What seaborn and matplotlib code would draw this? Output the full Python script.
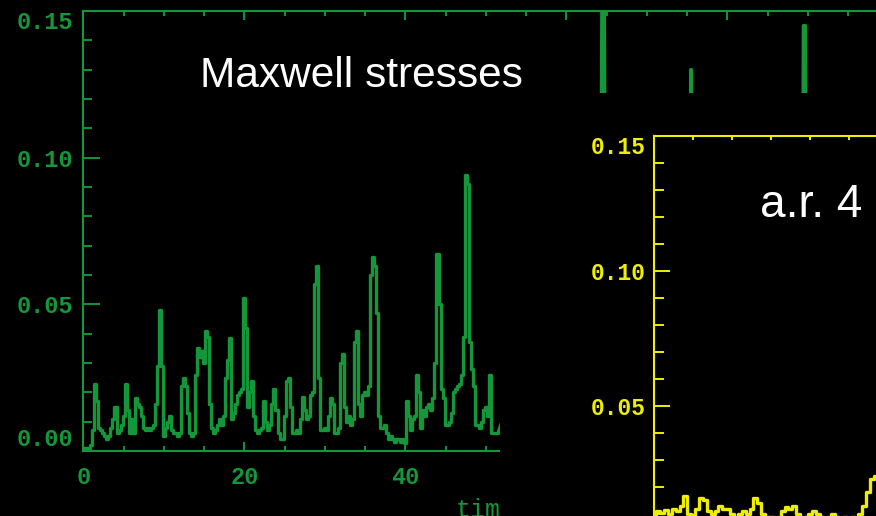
import numpy as np
import matplotlib
matplotlib.use("Agg")
import matplotlib.pyplot as plt
import seaborn as sns
from matplotlib.ticker import MultipleLocator, FormatStrFormatter, FixedLocator

# ---------------------------------------------------------------- data
# Maxwell stress, sampled every 0.25 time units
stress_dt = 0.25
stress = [
    0.000, 0.001, 0.001, 0.001,
    0.002, 0.007, 0.023, 0.017,
    0.008, 0.007, 0.006, 0.005,
    0.004, 0.005, 0.008, 0.011,
    0.015, 0.006, 0.007, 0.009,
    0.012, 0.023, 0.014, 0.006,
    0.011, 0.006, 0.018, 0.016,
    0.015, 0.012, 0.008, 0.007,
    0.008, 0.007, 0.008, 0.009,
    0.016, 0.029, 0.048, 0.029,
    0.005, 0.008, 0.010, 0.012,
    0.007, 0.006, 0.006, 0.005,
    0.006, 0.022, 0.025, 0.022,
    0.013, 0.006, 0.005, 0.006,
    0.026, 0.035, 0.032, 0.034,
    0.030, 0.041, 0.039, 0.016,
    0.008, 0.006, 0.007, 0.009,
    0.011, 0.009, 0.012, 0.025,
    0.031, 0.0385, 0.011, 0.013,
    0.016, 0.019, 0.020, 0.021,
    0.052, 0.042, 0.015, 0.020,
    0.024, 0.012, 0.007, 0.006,
    0.007, 0.008, 0.017, 0.010,
    0.007, 0.009, 0.016, 0.021,
    0.014, 0.006, 0.004, 0.004,
    0.012, 0.024, 0.025, 0.015,
    0.006, 0.006, 0.007, 0.006,
    0.011, 0.0185, 0.014, 0.011,
    0.012, 0.019, 0.020, 0.057,
    0.063, 0.025, 0.007, 0.007,
    0.008, 0.007, 0.012, 0.018,
    0.016, 0.006, 0.006, 0.008,
    0.030, 0.033, 0.015, 0.010,
    0.012, 0.009, 0.011, 0.037,
    0.041, 0.016, 0.012, 0.019,
    0.020, 0.019, 0.022, 0.060,
    0.066, 0.063, 0.047, 0.012,
    0.008, 0.008, 0.009, 0.006,
    0.004, 0.005, 0.004, 0.003,
    0.004, 0.004, 0.003, 0.004,
    0.0026, 0.017, 0.012, 0.007,
    0.011, 0.012, 0.026, 0.020,
    0.008, 0.014, 0.012, 0.015,
    0.016, 0.014, 0.018, 0.030,
    0.067, 0.050, 0.021, 0.018,
    0.009, 0.009, 0.010, 0.013,
    0.020, 0.021, 0.022, 0.023,
    0.026, 0.039, 0.094, 0.091,
    0.037, 0.028, 0.022, 0.009,
    0.009, 0.008, 0.010, 0.014,
    0.015, 0.012, 0.026, 0.006,
    0.006, 0.006, 0.006,
]
stress_time = np.arange(len(stress)) * stress_dt

# later part of the run (mostly under the a.r. 4 panel)
late_time = [52.0, 58.0, 64.2, 64.45, 64.7, 64.9, 70.0, 75.3, 75.45, 75.55,
             75.7, 82.0, 89.3, 89.45, 89.7, 89.85, 95.0, 100.0]
late_stress = [0.010, 0.015, 0.030, 0.170, 0.170, 0.030, 0.015, 0.030, 0.130, 0.130,
               0.030, 0.015, 0.030, 0.145, 0.145, 0.030, 0.015, 0.010]

# aspect ratio 4 run
ar4_time = [0.0, 0.5, 1.0, 1.5, 2.0, 2.5, 3.0, 3.5, 4.0, 4.5,
            5.0, 5.5, 6.0, 6.5, 7.0, 7.5, 8.0, 8.5, 9.0, 9.5,
            10.0, 10.5, 11.0, 11.5, 12.0, 12.5, 13.0, 13.5, 14.0, 14.5,
            15.0, 15.5, 16.0, 16.5, 17.0, 17.5, 18.0, 18.5, 19.0, 19.5,
            20.0, 20.5, 21.0, 21.5, 22.0, 22.5, 23.0, 23.5, 24.0, 24.5,
            25.0, 25.5, 26.0, 26.5, 27.0, 27.5, 28.0, 28.5, 29.0, 30.0]
ar4_stress = [0.0095, 0.011, 0.0105, 0.0115, 0.010, 0.012, 0.011, 0.013, 0.0167, 0.010,
              0.0095, 0.012, 0.016, 0.015, 0.011, 0.010, 0.011, 0.013, 0.012, 0.012,
              0.010, 0.009, 0.010, 0.011, 0.010, 0.012, 0.016, 0.014, 0.010, 0.009,
              0.009, 0.008, 0.009, 0.011, 0.0125, 0.012, 0.013, 0.010, 0.008, 0.009,
              0.010, 0.011, 0.010, 0.009, 0.008, 0.009, 0.010, 0.009, 0.008, 0.009,
              0.008, 0.009, 0.008, 0.010, 0.013, 0.018, 0.023, 0.024, 0.022, 0.020]

y_ticks = [0.00, 0.05, 0.10, 0.15]
ar4_y_ticks = [0.05, 0.10, 0.15]
x_ticks = [0, 20, 40, 60, 80]

GREEN = "#14963a"
YELLOW = "#eeee00"
W, H = 876, 516

# ---------------------------------------------------------------- style
sns.set_style("dark", {"axes.facecolor": "black", "figure.facecolor": "black",
                       "axes.grid": False})
plt.rcParams["font.family"] = ["Liberation Mono", "DejaVu Sans Mono"]
plt.rcParams["font.weight"] = "bold"

fig = plt.figure(figsize=(W / 100, H / 100), dpi=100, facecolor="black")


def box(left, top, right, bottom):
    return [left / W, (H - bottom) / H, (right - left) / W, (bottom - top) / H]


def style_axes(ax, color, ylen, xlen, ypad, xpad, fs, yticks):
    for s in ax.spines.values():
        s.set_color(color)
        s.set_linewidth(1.5)
    ax.set_facecolor("black")
    ax.tick_params(axis="y", which="major", direction="in", length=ylen[0], width=1.4,
                   left=True, right=True, colors=color, labelsize=fs, pad=ypad)
    ax.tick_params(axis="y", which="minor", direction="in", length=ylen[1], width=1.4,
                   left=True, right=True, colors=color)
    ax.tick_params(axis="x", which="major", direction="in", length=xlen[0], width=1.4,
                   bottom=True, top=True, colors=color, labelsize=fs, pad=xpad)
    ax.tick_params(axis="x", which="minor", direction="in", length=xlen[1], width=1.4,
                   bottom=True, top=True, colors=color)
    ax.yaxis.set_major_locator(FixedLocator(yticks))
    ax.yaxis.set_minor_locator(MultipleLocator(0.01))
    ax.yaxis.set_major_formatter(FormatStrFormatter("%.2f"))
    ax.set_ylim(0, 0.15)


# main panel
ax = fig.add_axes(box(83.3, 11, 888.3, 451))
style_axes(ax, GREEN, (12.2, 6.5), (6.5, 3.3), 7, 11, 17, y_ticks)
ax.xaxis.set_major_locator(FixedLocator(x_ticks))
ax.xaxis.set_minor_locator(MultipleLocator(5))
ax.set_xlim(0, 100)
sns.lineplot(x=stress_time, y=stress, ax=ax, color=GREEN, linewidth=2.4,
             estimator=None, sort=False, drawstyle="steps-mid")
sns.lineplot(x=[stress_time[-1]] + late_time, y=[stress[-1]] + late_stress, ax=ax,
             color=GREEN, linewidth=2.4, estimator=None, sort=False)
ax.set_xlabel("time", color=GREEN, fontsize=18, labelpad=6)
ax.set_ylabel("")
labels = ax.get_yticklabels()
labels[0].set_verticalalignment("bottom")
labels[-1].set_verticalalignment("top")
ax.text(200 / W, (H - 87) / H, "Maxwell stresses", transform=fig.transFigure,
        color="white", fontsize=30.5, family="Liberation Sans", weight="normal",
        va="baseline", ha="left", zorder=10)

# panel pasted over the right part of the figure
cover = fig.add_axes(box(500, 93, 880, 520))
cover.set_facecolor("black")
cover.set_xticks([])
cover.set_yticks([])
for s in cover.spines.values():
    s.set_visible(False)
cover.set_zorder(5)

ax2 = fig.add_axes(box(654.3, 135.7, 1432, 541))
ax2.set_zorder(6)
style_axes(ax2, YELLOW, (11.3, 7.0), (3.1, 3.1), 6.5, 8, 16.5, ar4_y_ticks)
ax2.xaxis.set_major_locator(FixedLocator([0, 50, 100]))
ax2.xaxis.set_minor_locator(MultipleLocator(5))
ax2.tick_params(axis="x", labelbottom=False)
ax2.set_xlim(0, 100)
sns.lineplot(x=ar4_time, y=ar4_stress, ax=ax2, color=YELLOW, linewidth=2.4,
             estimator=None, sort=False, drawstyle="steps-mid")
ax2.set_xlabel("")
ax2.set_ylabel("")
labels2 = ax2.get_yticklabels()
labels2[-1].set_verticalalignment("top")
ax2.text(760 / W, (H - 216.7) / H, "a.r. 4", transform=fig.transFigure,
         color="white", fontsize=33, family="Liberation Sans", weight="normal",
         va="baseline", ha="left", zorder=10)

fig.savefig("out.png", dpi=100, facecolor="black")
